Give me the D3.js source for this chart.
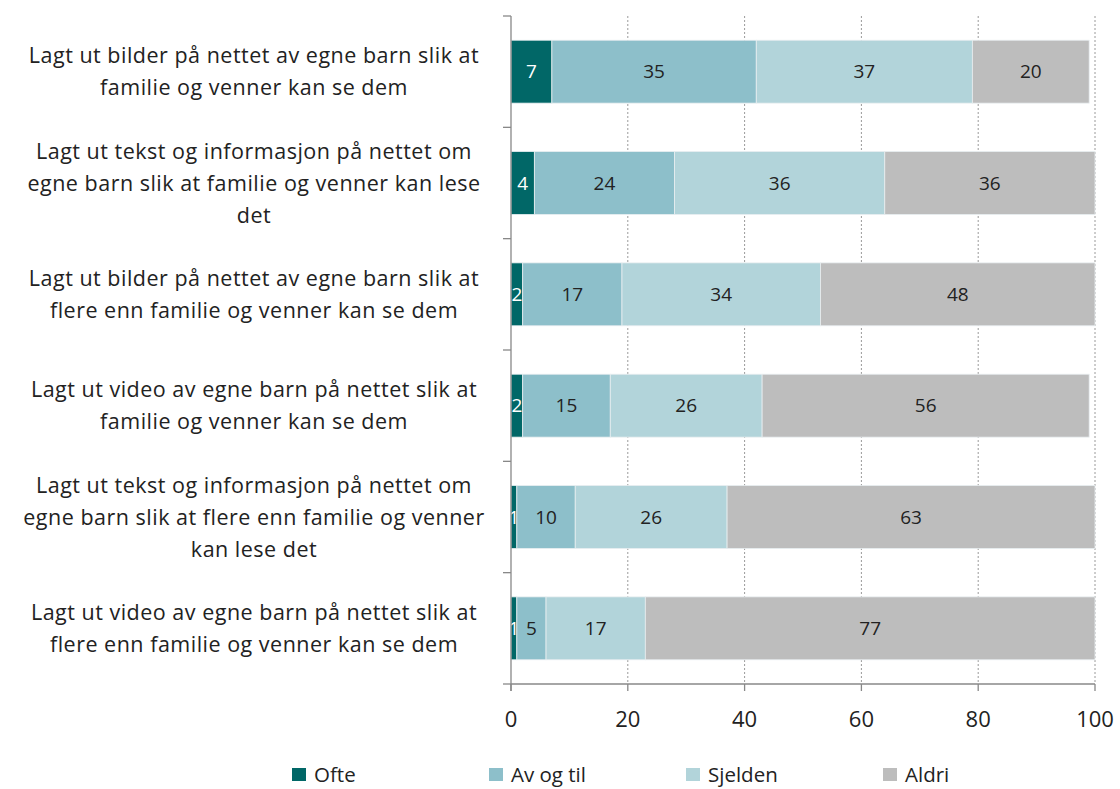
<!DOCTYPE html>
<html><head><meta charset="utf-8">
<script src="https://cdn.jsdelivr.net/npm/d3@7"></script>
<style>body{margin:0;background:#fff}svg{display:block}text{font-family:"Open Sans","Noto Sans",sans-serif}</style>
</head><body><svg id="c" width="1120" height="789"></svg>
<script>
const categories = [
  "Lagt ut bilder på nettet av egne barn slik at\nfamilie og venner kan se dem",
  "Lagt ut tekst og informasjon på nettet om\negne barn slik at familie og venner kan lese\ndet",
  "Lagt ut bilder på nettet av egne barn slik at\nflere enn familie og venner kan se dem",
  "Lagt ut video av egne barn på nettet slik at\nfamilie og venner kan se dem",
  "Lagt ut tekst og informasjon på nettet om\negne barn slik at flere enn familie og venner\nkan lese det",
  "Lagt ut video av egne barn på nettet slik at\nflere enn familie og venner kan se dem"
];
const seriesNames = ["Ofte", "Av og til", "Sjelden", "Aldri"];
const ofte    = [7, 4, 2, 2, 1, 1];
const avOgTil = [35, 24, 17, 15, 10, 5];
const sjelden = [37, 36, 34, 26, 26, 17];
const aldri   = [20, 36, 48, 56, 63, 77];
const xTicks  = [0, 20, 40, 60, 80, 100];
const colors  = ["#016767", "#8dbfca", "#b2d4da", "#bdbdbd"];
const labelColors = ["#ffffff", "#222222", "#222222", "#222222"];

(function(){
const svg = d3.select("#c");
const pL = 511, pR = 1095, pT = 16, pB = 684;
const x = d3.scaleLinear().domain([0, 100]).range([pL, pR]);
const y = d3.scaleBand().domain(d3.range(categories.length)).range([pT, pB]).paddingInner(0.435).paddingOuter(0.2175);

const rows = categories.map((c, i) => ({i, vals: [ofte[i], avOgTil[i], sjelden[i], aldri[i]]}));
const stack = d3.stack().keys([0,1,2,3]).value((d, k) => d.vals[k]);
const layers = stack(rows);

svg.append("g").selectAll("line").data(xTicks.filter(t => t > 0)).join("line")
  .attr("x1", d => x(d)).attr("x2", d => x(d)).attr("y1", pT).attr("y2", pB)
  .attr("stroke", "#9a9a9a").attr("stroke-width", 1).attr("stroke-dasharray", "2,2");

const g = svg.append("g");
layers.forEach((layer, k) => {
  g.selectAll(null).data(layer).join("rect")
    .attr("x", d => x(d[0])).attr("width", d => Math.min(x(d[1]), pR) - x(d[0]))
    .attr("y", d => y(d.data.i)).attr("height", y.bandwidth())
    .attr("fill", colors[k]).attr("stroke", "#e8eef0").attr("stroke-width", 0.8);
  g.selectAll(null).data(layer).join("text")
    .attr("x", d => (x(d[0]) + Math.min(x(d[1]), pR)) / 2)
    .attr("y", d => y(d.data.i) + y.bandwidth() / 2)
    .attr("dy", "0.35em").attr("text-anchor", "middle")
    .attr("font-size", 19).attr("fill", labelColors[k])
    .text(d => d.data.vals[k]);
});

svg.append("line").attr("x1", pL).attr("x2", pL).attr("y1", pT).attr("y2", pB + 7)
  .attr("stroke", "#888").attr("stroke-width", 1.3);
const bounds = d3.range(categories.length + 1).map(i => pT + i * (pB - pT) / categories.length);
svg.append("g").selectAll("line").data(bounds).join("line")
  .attr("x1", pL - 8).attr("x2", pL).attr("y1", d => d).attr("y2", d => d)
  .attr("stroke", "#888").attr("stroke-width", 1.3);

svg.append("line").attr("x1", pL).attr("x2", pR).attr("y1", pB).attr("y2", pB)
  .attr("stroke", "#888").attr("stroke-width", 1.3);
svg.append("g").selectAll("line").data(xTicks).join("line")
  .attr("x1", d => x(d)).attr("x2", d => x(d)).attr("y1", pB).attr("y2", pB + 7)
  .attr("stroke", "#888").attr("stroke-width", 1.3);
svg.append("g").selectAll("text").data(xTicks).join("text")
  .attr("x", d => x(d)).attr("y", 719).attr("dy", "0.35em").attr("text-anchor", "middle")
  .attr("font-size", 22).attr("fill", "#222").text(d => d);

const lh = 32;
categories.forEach((c, i) => {
  const lines = c.split("\n");
  const cy = y(i) + y.bandwidth() / 2;
  const t = svg.append("text").attr("text-anchor", "middle").attr("font-size", 21.5)
    .attr("letter-spacing", 0.5).attr("fill", "#222");
  lines.forEach((ln, j) => {
    t.append("tspan").attr("x", 254).attr("y", cy + (j - (lines.length - 1) / 2) * lh).attr("dy", "0.35em").text(ln);
  });
});

const lg = svg.append("g").selectAll("g").data(seriesNames).join("g")
  .attr("transform", (d, k) => `translate(${292 + k * 197},768)`);
lg.append("rect").attr("width", 14).attr("height", 13).attr("fill", (d, k) => colors[k]);
lg.append("text").attr("x", 22).attr("y", 7).attr("dy", "0.35em").attr("font-size", 20.5).attr("fill", "#222").text(d => d);
})();
</script></body></html>
